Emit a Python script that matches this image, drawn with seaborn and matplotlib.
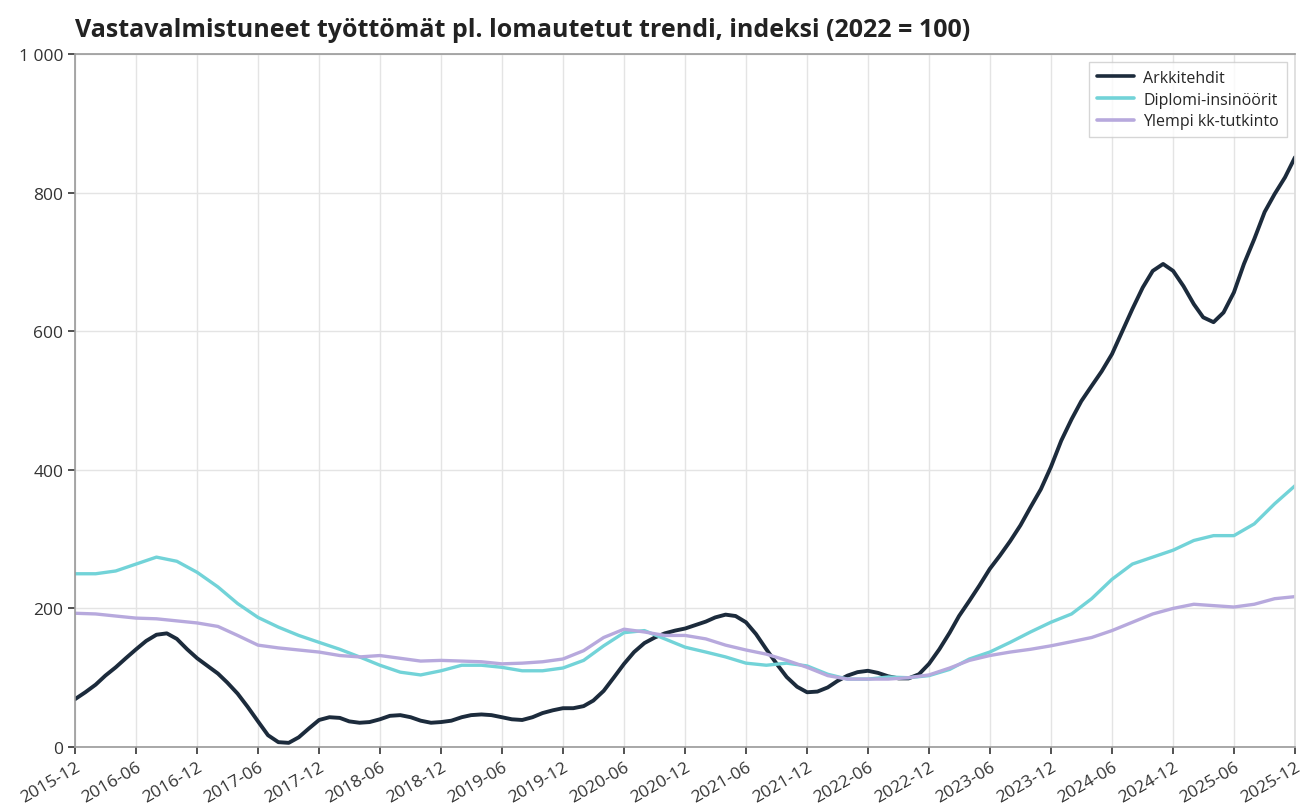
import matplotlib.pyplot as plt
import matplotlib.dates as mdates
import matplotlib.ticker as mticker
import pandas as pd
import seaborn as sns

# values; Arkkitehdit monthly, the others every two months
months = pd.date_range('2015-12-01', '2025-12-01', freq='MS')
bimonths = pd.date_range('2015-12-01', '2025-12-01', freq='2MS')

arkkitehdit = [69, 79, 90, 103, 115, 128, 141, 153, 162, 164, 156, 141,
               128, 117, 106, 93, 77, 58, 37, 17, 7, 6, 14, 27,
               39, 43, 42, 37, 35, 36, 40, 45, 46, 43, 38, 35,
               36, 38, 43, 46, 47, 46, 43, 40, 39, 43, 49, 53,
               56, 56, 59, 67, 81, 100, 120, 137, 150, 158, 164, 168,
               171, 176, 181, 187, 191, 189, 180, 163, 141, 120, 101, 87,
               79, 80, 86, 95, 103, 108, 110, 107, 102, 99, 99, 105,
               120, 141, 165, 189, 211, 233, 257, 276, 297, 320, 346, 372,
               404, 442, 473, 499, 521, 542, 567, 599, 632, 663, 687, 697,
               687, 665, 639, 620, 613, 627, 656, 697, 733, 772, 798, 822, 851]
diplomi = [250, 250, 254, 264, 274, 268, 252, 231, 207, 187, 173, 161, 151,
           141, 130, 118, 108, 104, 110, 118, 118, 115, 110, 110, 114, 125,
           146, 165, 168, 156, 144, 137, 130, 121, 118, 121, 117, 105, 98,
           98, 101, 100, 103, 112, 127, 137, 151, 166, 180, 192, 214, 242,
           264, 274, 284, 298, 305, 305, 322, 351, 377]
ylempi = [193, 192, 189, 186, 185, 182, 179, 174, 161, 147, 143, 140, 137,
          132, 130, 132, 128, 124, 125, 124, 123, 120, 121, 123, 127, 139,
          158, 170, 166, 161, 161, 156, 147, 140, 134, 125, 115, 103, 98,
          98, 98, 100, 104, 114, 125, 132, 137, 141, 146, 152, 158, 168,
          180, 192, 200, 206, 204, 202, 206, 214, 217]

series_names = ['Arkkitehdit', 'Diplomi-insinöörit', 'Ylempi kk-tutkinto']
colors = ['#1c2b3c', '#72d3d8', '#b7a9dd']

df = pd.concat([
    pd.DataFrame({'date': months, 'value': arkkitehdit, 'sarja': series_names[0]}),
    pd.DataFrame({'date': bimonths, 'value': diplomi, 'sarja': series_names[1]}),
    pd.DataFrame({'date': bimonths, 'value': ylempi, 'sarja': series_names[2]}),
])

sns.set_theme(style='whitegrid')
plt.rcParams['font.family'] = ['Open Sans', 'DejaVu Sans']

fig = plt.figure(figsize=(13.06, 8.12), dpi=100)
ax = fig.add_axes([0.0574, 0.0788, 0.9342, 0.8535])

sns.lineplot(data=df, x='date', y='value', hue='sarja', palette=colors,
             linewidth=2.6, ax=ax)
for line, w in zip(ax.lines, [2.8, 2.4, 2.4]):
    line.set_linewidth(w)
    line.set_solid_joinstyle('round')

ax.set_xlim(months[0], months[-1])
ax.set_ylim(0, 1000)
ax.set_yticks([0, 200, 400, 600, 800, 1000])
ax.yaxis.set_major_formatter(
    mticker.FuncFormatter(lambda v, p: f'{int(v):,}'.replace(',', ' ')))
ax.xaxis.set_major_locator(mdates.MonthLocator(bymonth=[6, 12]))
ax.xaxis.set_major_formatter(mdates.DateFormatter('%Y-%m'))

ax.set_xlabel('')
ax.set_ylabel('')
ax.grid(color='#e4e4e4', linewidth=1)
ax.tick_params(axis='both', which='major', labelsize=12.5, colors='#333333',
               length=5, width=1.2, bottom=True, left=True, direction='out')
plt.setp(ax.get_xticklabels(), rotation=30, ha='right', rotation_mode='anchor')

for side in ['left', 'bottom', 'top']:
    ax.spines[side].set_color('#999999')
    ax.spines[side].set_linewidth(1.2)
ax.spines['right'].set_color('#dddddd')

leg = ax.legend(loc='upper right', fontsize=11.5, frameon=True,
                fancybox=False, edgecolor='#cccccc', borderpad=0.5,
                handlelength=2.3, handletextpad=0.6, labelspacing=0.35)
leg.set_title(None)
for h in leg.get_lines():
    h.set_linewidth(2.6)

fig.text(0.0574, 0.963, 'Vastavalmistuneet työttömät pl. lomautetut trendi, indeksi (2022 = 100)',
         fontsize=18, fontweight='bold', color='#222222', ha='left', va='center')

fig.savefig('out.png', dpi=100)
